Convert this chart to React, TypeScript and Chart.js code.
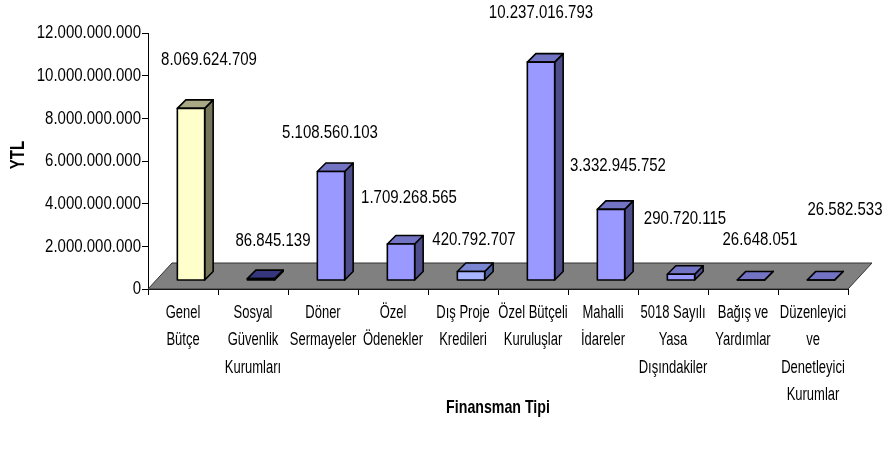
import React, { useEffect, useRef } from 'react';
import { Chart, registerables } from 'chart.js';

Chart.register(...registerables);

// ---- data ----
const categories: string[][] = [
  ['Genel', 'Bütçe'],
  ['Sosyal', 'Güvenlik', 'Kurumları'],
  ['Döner', 'Sermayeler'],
  ['Özel', 'Ödenekler'],
  ['Dış Proje', 'Kredileri'],
  ['Özel Bütçeli', 'Kuruluşlar'],
  ['Mahalli', 'İdareler'],
  ['5018 Sayılı', 'Yasa', 'Dışındakiler'],
  ['Bağış ve', 'Yardımlar'],
  ['Düzenleyici', 've', 'Denetleyici', 'Kurumlar'],
];

const values: number[] = [
  8069624709, 86845139, 5108560103, 1709268565, 420792707,
  10237016793, 3332945752, 290720115, 26648051, 26582533,
];

const yMin = 0;
const yMax = 12000000000;
const yStep = 2000000000;

const yTitle = 'YTL';
const xTitle = 'Finansman Tipi';

// ---- label placement (relative to each bar's top) ----
const labelOffsetX = [26, 20, 7, 16, 11, 8, 15, 12, 17, 32];
const labelOffsetY = [-49, -38, -39, -46, -32, -49, -44, -55, -40, -70];

// ---- styles ----
const frontColors = ['#FFFFCC', '#9999FF', '#9999FF', '#9999FF', '#A8B6FF', '#9999FF', '#9999FF', '#9999FF', '#9999FF', '#9999FF'];
const sideColors = ['#76765A', '#2E2E6E', '#4D4D8C', '#4D4D8C', '#4D5E9C', '#4D4D8C', '#4D4D8C', '#4D4D8C', '#4D4D8C', '#4D4D8C'];
const topColors = ['#A8A884', '#36367E', '#7373C4', '#7373C4', '#7A86D2', '#7373C4', '#7373C4', '#7373C4', '#7373C4', '#7373C4'];

const FAMILY = '"Liberation Sans", Arial, Helvetica, sans-serif';
const FLOOR_DX = 24;
const FLOOR_DY = -26;
const FRONT_DX = 8;
const FRONT_DY = -8.5;
const DEPTH_DX = 8.5;
const DEPTH_DY = -8.5;

function fmt(v: number): string {
  return String(Math.round(v)).replace(/\B(?=(\d{3})+(?!\d))/g, '.');
}

function poly(ctx: CanvasRenderingContext2D, pts: number[][], fill: string) {
  ctx.beginPath();
  ctx.moveTo(pts[0][0], pts[0][1]);
  for (let i = 1; i < pts.length; i++) ctx.lineTo(pts[i][0], pts[i][1]);
  ctx.closePath();
  ctx.fillStyle = fill;
  ctx.fill();
  ctx.stroke();
}

// text with vertically stretched glyphs (the reference's glyphs are tall)
function stretchText(
  ctx: CanvasRenderingContext2D, text: string, x: number, y: number,
  size: number, sy: number, align: CanvasTextAlign, bold = false, rot = 0,
) {
  ctx.save();
  ctx.translate(x, y);
  if (rot) ctx.rotate(rot);
  ctx.scale(1, sy);
  ctx.font = `${bold ? 'bold ' : ''}${size}px ${FAMILY}`;
  ctx.textAlign = align;
  ctx.textBaseline = 'middle';
  ctx.fillStyle = '#000';
  ctx.fillText(text, 0, 0);
  ctx.restore();
}

export default function App() {
  const ref = useRef<HTMLCanvasElement | null>(null);

  useEffect(() => {
    if (!ref.current) return;

    const bars3d = {
      id: 'bars3d',
      beforeDatasetsDraw(chart: any) {
        const { ctx, chartArea } = chart;
        const y0 = chart.scales.y.getPixelForValue(0);
        ctx.save();
        ctx.lineWidth = 1;
        ctx.strokeStyle = '#333';
        poly(ctx, [
          [chartArea.left, y0],
          [chartArea.right, y0],
          [chartArea.right + FLOOR_DX, y0 + FLOOR_DY],
          [chartArea.left + FLOOR_DX, y0 + FLOOR_DY],
        ], '#808080');
        ctx.restore();
      },
      afterDatasetsDraw(chart: any) {
        const { ctx } = chart;
        const meta = chart.getDatasetMeta(0);
        ctx.save();
        ctx.lineWidth = 1.6;
        ctx.strokeStyle = '#000';
        ctx.lineJoin = 'round';
        meta.data.forEach((el: any, i: number) => {
          const x0 = el.x - el.width / 2 + FRONT_DX;
          const x1 = el.x + el.width / 2 + FRONT_DX;
          const yT = el.y + FRONT_DY;
          const yB = el.base + FRONT_DY;
          poly(ctx, [[x1, yT], [x1 + DEPTH_DX, yT + DEPTH_DY], [x1 + DEPTH_DX, yB + DEPTH_DY], [x1, yB]], sideColors[i]);
          poly(ctx, [[x0, yT], [x1, yT], [x1 + DEPTH_DX, yT + DEPTH_DY], [x0 + DEPTH_DX, yT + DEPTH_DY]], topColors[i]);
          poly(ctx, [[x0, yT], [x1, yT], [x1, yB], [x0, yB]], frontColors[i]);
        });
        ctx.restore();
        meta.data.forEach((el: any, i: number) => {
          stretchText(ctx, fmt(values[i]), el.x + labelOffsetX[i], el.y + FRONT_DY + labelOffsetY[i], 15, 1.25, 'center');
        });
      },
      afterDraw(chart: any) {
        const { ctx, chartArea } = chart;
        const xs = chart.scales.x;
        const ys = chart.scales.y;
        // category labels
        categories.forEach((lines, i) => {
          const px = xs.getPixelForTick(i);
          lines.forEach((ln, j) => {
            stretchText(ctx, ln, px, chartArea.bottom + 24 + j * 27.3, 13, 1.4, 'center');
          });
        });
        // value ticks
        ys.ticks.forEach((t: any) => {
          stretchText(ctx, fmt(t.value), chartArea.left - 7, ys.getPixelForValue(t.value), 15, 1.25, 'right');
        });
        // axis titles
        stretchText(ctx, yTitle, chartArea.left - 129, (chartArea.top + chartArea.bottom) / 2 - 6, 15, 1.3, 'center', true, -Math.PI / 2);
        stretchText(ctx, xTitle, (chartArea.left + chartArea.right) / 2, chartArea.bottom + 119, 14.2, 1.25, 'center', true);
      },
    };

    const chart = new Chart(ref.current, {
      type: 'bar',
      data: {
        labels: categories as any,
        datasets: [{
          data: values,
          backgroundColor: 'rgba(0,0,0,0)',
          borderWidth: 0,
          barPercentage: 0.39,
          categoryPercentage: 1,
        }],
      },
      options: {
        responsive: false,
        animation: false,
        layout: { padding: { top: 33, right: 40, left: 0, bottom: 0 } },
        plugins: { legend: { display: false }, tooltip: { enabled: false }, title: { display: false } },
        scales: {
          x: {
            afterFit: (s: any) => { s.height = 161; },
            grid: { drawOnChartArea: false, drawTicks: true, tickLength: 6, color: '#000', offset: true },
            border: { display: true, color: '#000', width: 1 },
            ticks: { display: false, autoSkip: false },
            title: { display: false, text: xTitle },
          },
          y: {
            min: yMin,
            max: yMax,
            afterFit: (s: any) => { s.width = 148; },
            grid: { drawOnChartArea: false, drawTicks: true, tickLength: 6, color: '#000' },
            border: { display: true, color: '#000', width: 1 },
            ticks: { display: false, stepSize: yStep, callback: (v: any) => fmt(Number(v)) },
            title: { display: false, text: yTitle },
          },
        },
      },
      plugins: [bars3d],
    } as any);
    return () => chart.destroy();
  }, []);

  return (
    <div style={{ position: 'absolute', left: 0, top: 0, width: 888, height: 450, background: '#fff' }}>
      <canvas ref={ref} width={888} height={450} />
    </div>
  );
}
